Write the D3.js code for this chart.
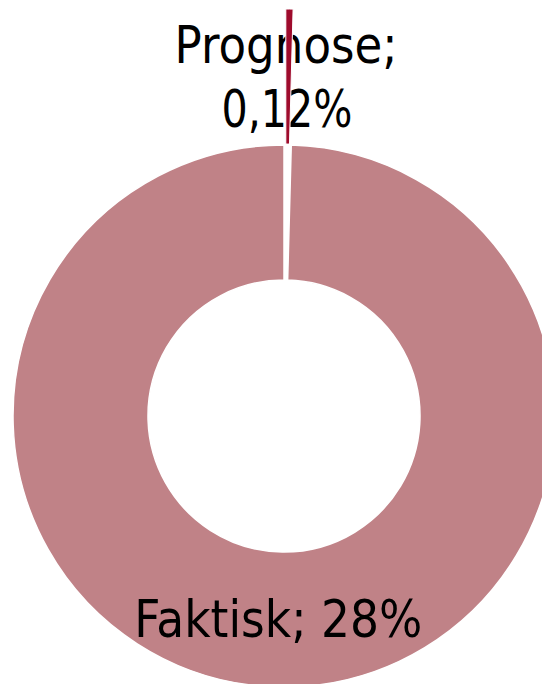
<!DOCTYPE html>
<html>
<head>
<meta charset="utf-8">
<script src="https://cdn.jsdelivr.net/npm/d3@7"></script>
<style>
  body { margin: 0; background: #fff; }
  text { font-family: "DejaVu Sans", sans-serif; fill: #000; }
</style>
</head>
<body>
<script>
// slices, in drawing order (Excel starts at 12 o'clock, clockwise)
var categories = ["Prognose", "Faktisk"];
var values = [0.12, 28];
var valueLabels = ["0,12%", "28%"];
var colors = ["#9E0B2C", "#C08287"];

var width = 542,
    height = 684,
    cx = 284, cy = 416,
    outerR = 271,
    innerR = 136,
    explode = 136; // how far the small slice is pulled out

var svg = d3.select("body")
    .append("svg")
        .attr("width", width)
        .attr("height", height);

var g = svg.append("g")
    .attr("transform", "translate(" + cx + "," + cy + ")");

var pie = d3.pie().sort(null).value(function(d) { return d; });
var arcs = pie(values);

var arc = d3.arc().innerRadius(innerR).outerRadius(outerR);

function offset(d, r) {
  var a = (d.startAngle + d.endAngle) / 2;
  return [Math.sin(a) * r, -Math.cos(a) * r];
}

// big slice first
g.append("path")
    .attr("d", arc(arcs[1]))
    .attr("fill", colors[1])
    .attr("stroke", "#fff")
    .attr("stroke-width", 1.5);

// labels
var big = offset(arcs[1], 204);
g.append("text")
    .attr("x", big[0] - 3)
    .attr("y", big[1] + 17)
    .attr("text-anchor", "middle")
    .style("font-size", "51px")
    .attr("textLength", 288)
    .attr("lengthAdjust", "spacingAndGlyphs")
    .text(categories[1] + "; " + valueLabels[1]);

var small = offset(arcs[0], 0);
var lab = g.append("text")
    .attr("text-anchor", "middle")
    .style("font-size", "51px");
lab.append("tspan")
    .attr("x", small[0] + 2)
    .attr("y", 63 - cy)
    .attr("textLength", 223)
    .attr("lengthAdjust", "spacingAndGlyphs")
    .text(categories[0] + ";");
lab.append("tspan")
    .attr("x", small[0] + 3)
    .attr("y", 127 - cy)
    .attr("textLength", 131)
    .attr("lengthAdjust", "spacingAndGlyphs")
    .text(valueLabels[0]);

// exploded small slice, drawn over the label
var off = offset(arcs[0], explode);
g.append("path")
    .attr("transform", "translate(" + off[0] + "," + off[1] + ")")
    .attr("d", arc(arcs[0]))
    .attr("fill", colors[0])
    .attr("stroke", "#fff")
    .attr("stroke-width", 1);
</script>
</body>
</html>
